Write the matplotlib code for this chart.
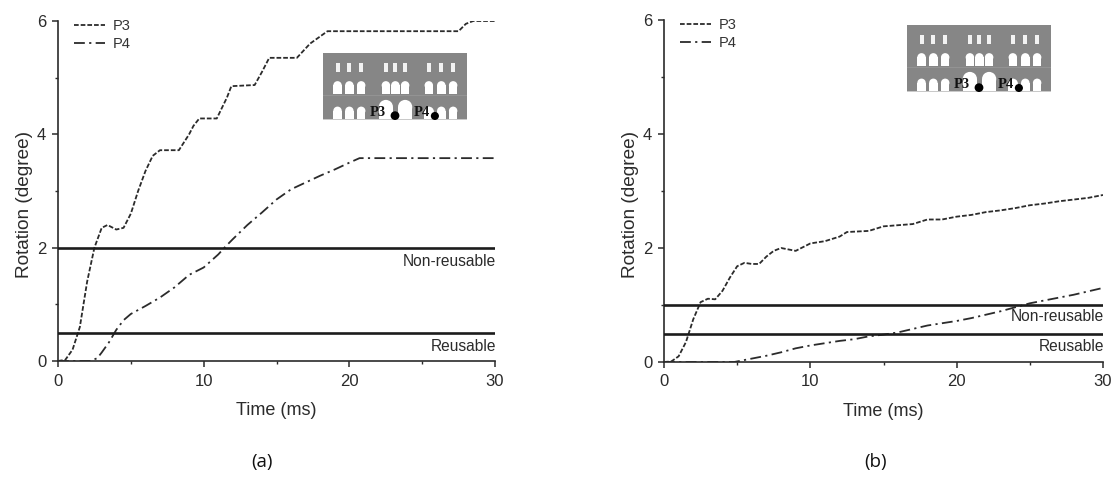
import matplotlib
matplotlib.use("Agg")
import matplotlib.pyplot as plt
from matplotlib.patches import Rectangle, Ellipse
from matplotlib.ticker import MultipleLocator

plt.rcParams['font.family'] = ['Liberation Sans', 'DejaVu Sans']

t_a3 = [0,0.5,1,1.5,2,2.5,3,3.4,4,4.5,5,5.5,6,6.5,7,8.3,9,9.3,9.7,10.9,11.6,11.9,13.5,14,14.5,16.4,17.3,18.5,27.5,28,28.5,30]
v_a3 = [0,0.02,0.2,0.6,1.4,2.0,2.35,2.4,2.32,2.35,2.6,3.0,3.35,3.62,3.72,3.72,4.0,4.15,4.28,4.28,4.65,4.85,4.87,5.1,5.35,5.35,5.6,5.82,5.82,5.95,6,6]
t_a4 = [0,2.2,2.7,3,3.5,4,4.5,5,6,7,8,9,10,11,11.5,12,13,14,15,16,17,18,19,20,20.7,30]
v_a4 = [0,0,0.05,0.15,0.33,0.55,0.72,0.83,0.97,1.12,1.3,1.52,1.65,1.88,2.02,2.15,2.4,2.62,2.85,3.03,3.15,3.27,3.38,3.5,3.58,3.58]
t_b3 = [0,0.5,1,1.5,2,2.5,3,3.5,4,4.5,5,5.5,6,6.5,7,7.5,8,9,10,11,12,12.5,14,15,16,17,18,19,20,21,22,23,24,25,26,27,28,29,30]
v_b3 = [0,0.01,0.1,0.35,0.75,1.05,1.11,1.1,1.25,1.48,1.68,1.74,1.72,1.72,1.85,1.95,2.0,1.95,2.08,2.12,2.2,2.28,2.3,2.38,2.4,2.42,2.5,2.5,2.55,2.58,2.63,2.66,2.7,2.75,2.78,2.82,2.85,2.88,2.93]
t_b4 = [0,4.8,6,7,8,9,10,11,12,13,14,15,16,17,18,19,20,21,22,23,24,25,26,27,28,29,30]
v_b4 = [0,0,0.06,0.11,0.17,0.24,0.29,0.33,0.37,0.4,0.45,0.48,0.52,0.58,0.64,0.68,0.72,0.77,0.83,0.89,0.96,1.03,1.08,1.13,1.18,1.24,1.3]

limits_a = [2.0, 0.5]
limits_b = [1.0, 0.5]
limit_names = ["Non-reusable", "Reusable"]
series_names = ["P3", "P4"]
x_ticks = [0, 10, 20, 30]
y_ticks = [0, 2, 4, 6]

W, H = 1116, 479
INK = "#2b2b2b"
fig = plt.figure(figsize=(W / 100, H / 100), dpi=100, facecolor="white")


def px_axes(x0, x1, y_top, y_bottom):
    return fig.add_axes([x0 / W, 1 - y_bottom / H, (x1 - x0) / W, (y_bottom - y_top) / H])


def panel(box, t3, v3, t4, v4, limits, label_y, caption, cap_x):
    ax = px_axes(*box)
    ax.patch.set_alpha(0)
    l3, = ax.plot(t3, v3, color="#2b2b2b", lw=1.3, ls=(0, (2.6, 1.1)))
    l4, = ax.plot(t4, v4, color="#2b2b2b", lw=1.3, ls=(0, (6, 2.4, 1.2, 2.4)))
    for lim in limits:
        ax.axhline(lim, color="#1c1c1c", lw=1.9, zorder=3)
    for name, y in zip(limit_names, label_y):
        ax.text(30.1, y, name, ha="right", va="center", fontsize=11.2, color=INK)
    ax.set_xlim(0, 30)
    ax.set_ylim(0, 6)
    ax.set_xticks(x_ticks)
    ax.set_yticks(y_ticks)
    ax.xaxis.set_minor_locator(MultipleLocator(5))
    ax.yaxis.set_minor_locator(MultipleLocator(1))
    ax.tick_params(which="major", length=4, width=1.1, labelsize=12, colors=INK)
    ax.tick_params(axis="y", which="major", pad=4.4)
    ax.tick_params(axis="x", which="major", pad=5)
    ax.tick_params(which="minor", length=2.2, width=1.0, colors=INK)
    for s in ("top", "right"):
        ax.spines[s].set_visible(False)
    for s in ("left", "bottom"):
        ax.spines[s].set_linewidth(1.2)
        ax.spines[s].set_color(INK)
    ax.set_xlabel("Time (ms)", fontsize=13, color=INK, labelpad=10)
    ax.set_ylabel("Rotation (degree)", fontsize=13.7, color=INK, labelpad=3, y=0.46)
    ax.legend([l3, l4], series_names, loc="upper left", bbox_to_anchor=(0.037, 1.007), frameon=False,
              fontsize=10.5, handlelength=2.1, handletextpad=0.55, labelspacing=0.3,
              labelcolor="#333333", borderpad=0, borderaxespad=0)
    fig.text(cap_x / W, 1 - 462 / H, caption, ha="center", va="center", fontsize=13.5,
             family=["Open Sans", "DejaVu Sans"], color="#111111")


def arch(ax, xc, top, w, bottom=200):
    ax.add_patch(Rectangle((xc - w / 2, top + w / 2), w, bottom - top - w / 2, fc="white", ec="none"))
    ax.add_patch(Ellipse((xc, top + w / 2), w, w, fc="white", ec="none"))


def inset(box):
    ax = px_axes(*box)
    ax.set_xlim(0, 426)
    ax.set_ylim(200, 0)
    ax.axis("off")
    ax.add_patch(Rectangle((0, 0), 426, 200, fc="#868686", ec="none"))
    ax.plot([0, 426], [125, 125], color="#949494", lw=0.7)
    ax.add_patch(Rectangle((0, 196), 426, 4, fc="#c9c9c9", ec="none"))
    columns = [43, 78, 113, 186, 214, 243, 313, 350, 385]
    for xc in columns:
        ax.add_patch(Rectangle((xc - 6, 30), 12, 26, fc="#f2f2f2", ec="none"))
        arch(ax, xc, 84, 25, 121)
    for xc in [43, 78, 113, 350, 385]:
        arch(ax, xc, 160, 25, 197)
    arch(ax, 186, 140, 42, 197)
    arch(ax, 243, 140, 42, 197)
    arch(ax, 313, 160, 30, 197)
    ax.text(162, 177, "P3", family=["Liberation Serif"], weight="bold", fontsize=10.5, color="#111111",
            ha="center", va="center")
    ax.text(292, 177, "P4", family=["Liberation Serif"], weight="bold", fontsize=10.5, color="#111111",
            ha="center", va="center")
    ax.add_patch(Ellipse((213, 187), 26, 26, fc="black", ec="none"))
    ax.add_patch(Ellipse((331, 188), 24, 24, fc="black", ec="none"))


panel((58, 495, 21, 361), t_a3, v_a3, t_a4, v_a4, limits_a, [1.75, 0.26], "(a)", 262)
panel((664, 1103, 20, 362), t_b3, v_b3, t_b4, v_b4, limits_b, [0.8, 0.27], "(b)", 876)
inset((323, 467, 53, 120))
inset((907, 1051, 25, 92))

fig.savefig("out.png", dpi=100, facecolor="white")
